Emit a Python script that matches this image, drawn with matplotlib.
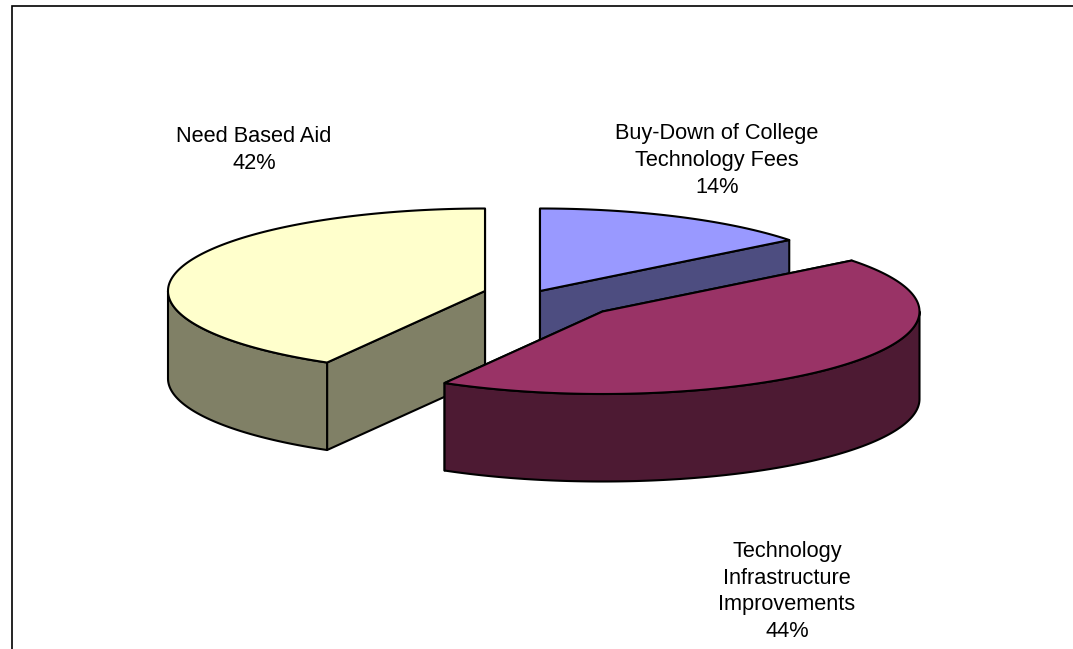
import numpy as np
import matplotlib
matplotlib.use("Agg")
import matplotlib.pyplot as plt
from matplotlib.patches import Polygon

categories = ["Buy-Down of College\nTechnology Fees",
              "Technology\nInfrastructure\nImprovements",
              "Need Based Aid"]
values = [14.4, 43.9, 41.7]
percent_labels = ["14%", "44%", "42%"]
top_colors = ["#9999FF", "#993366", "#FFFFCC"]
side_colors = ["#4D4D80", "#4D1A33", "#808066"]

apexes = [(540.0, 291.0), (602.5, 311.5), (485.0, 291.0)]
label_pos = [(717, 160.5), (787, 591.5), (254, 150)]
RX, RY, DEPTH = 317.0, 82.5, 87.5
LW = 1.5

plt.rcParams["font.family"] = ["Liberation Sans", "DejaVu Sans"]
fig = plt.figure(figsize=(10.73, 6.49), dpi=100)
ax = fig.add_axes([0, 0, 1, 1])
ax.set_xlim(0, 1073)
ax.set_ylim(649, 0)
ax.axis("off")

# frame: top and left only
ax.plot([11.5, 11.5, 1073], [649, 5.5, 5.5], color="black", lw=1.2, solid_joinstyle="miter", zorder=1)

shares = np.array(values) / np.sum(values) * 2 * np.pi
ends = np.cumsum(shares)
starts = ends - shares


def rim(i, a0, a1):
    t = np.linspace(a0, a1, 180)
    x0, y0 = apexes[i]
    return np.column_stack([x0 + RX * np.sin(t), y0 - RY * np.cos(t)])


def wedge(i, z):
    a0, a1 = starts[i], ends[i]
    apex = np.array(apexes[i])
    down = np.array([0, DEPTH])
    r = rim(i, a0, a1)
    # radial walls, painted back to front
    walls = [np.array([apex, r[0], r[0] + down, apex + down]),
             np.array([apex, r[-1], r[-1] + down, apex + down])]
    walls.sort(key=lambda w: w[1][1])
    for k, w in enumerate(walls):
        ax.add_patch(Polygon(w, closed=True, fc=side_colors[i], ec="black", lw=LW,
                             joinstyle="round", zorder=z + k * 0.1))
    # outer wall: front half of the rim only
    t0 = max(a0, np.pi / 2)
    t1 = min(a1, 3 * np.pi / 2)
    if t1 > t0:
        f = rim(i, t0, t1)
        ax.add_patch(Polygon(np.vstack([f, f[::-1] + down]), closed=True, fc=side_colors[i],
                             ec="black", lw=LW, joinstyle="round", zorder=z + 0.3))
    ax.add_patch(Polygon(np.vstack([apex, r]), closed=True, fc=top_colors[i], ec="black",
                         lw=LW, joinstyle="round", zorder=z + 0.4))


for i, z in zip([0, 2, 1], [2, 3, 4]):
    wedge(i, z)

for name, pct, (x, y) in zip(categories, percent_labels, label_pos):
    ax.text(x, y, f"{name}\n{pct}", ha="center", va="center", fontsize=15.7,
            linespacing=1.37, color="black", zorder=6)

fig.savefig("out.png", dpi=100, facecolor="white")
